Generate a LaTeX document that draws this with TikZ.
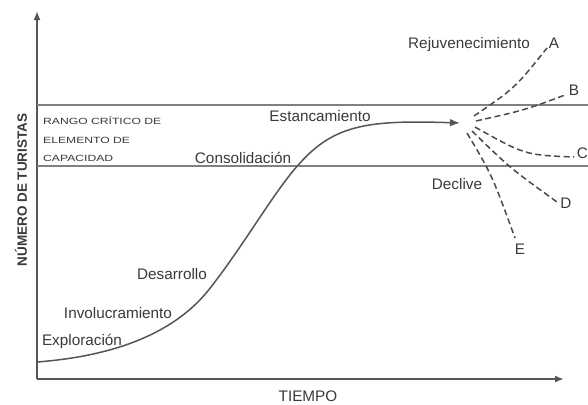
\documentclass[tikz,border=0pt]{standalone}
\usepackage{fontspec}
\setmainfont{Liberation Sans}
\usetikzlibrary{arrows.meta}
\definecolor{axisgray}{HTML}{555555}
\definecolor{linegray}{HTML}{808080}
\definecolor{txtgray}{HTML}{3A3A3A}
\definecolor{dashgray}{HTML}{4A4A4A}
\begin{document}
\begin{tikzpicture}[x=1bp,y=-1bp,
  lbl/.style={inner sep=0pt, text=txtgray, font=\fontsize{15.3bp}{18bp}\selectfont},
  small/.style={inner sep=0pt, anchor=west, text=txtgray, font=\fontsize{9bp}{10bp}\selectfont},
  axis/.style={draw=axisgray, line width=1.8bp, -{Latex[length=9bp,width=7bp]}},
  rangeline/.style={draw=linegray, line width=1.6bp},
  curve/.style={draw=axisgray, line width=1.5bp},
  scen/.style={draw=dashgray, line width=1.5bp, dash pattern=on 6bp off 3.5bp}]
\useasboundingbox (0,0) rectangle (588,404);
\fill[white] (0,0) rectangle (588,404);
% axes
\coordinate (O) at (37,379);
\coordinate (ytop) at (37,11);
\coordinate (xend) at (564,379);
\draw[axis] (O) -- (ytop);
\draw[axis] (O) -- (xend);
% critical range lines
\coordinate (u1) at (37,105); \coordinate (u2) at (588,105);
\coordinate (l1) at (37,166); \coordinate (l2) at (588,166);
\draw[rangeline] (u1) -- (u2);
\draw[rangeline] (l1) -- (l2);
% S curve
\coordinate (start) at (37,362);
\coordinate (m1) at (211,287);
\coordinate (m2) at (300,163);
\coordinate (peak) at (460,123);
\draw[curve, -{Latex[length=10bp,width=7.5bp]}] (start) .. controls (115,356) and (176,333) .. (m1)
  .. controls (246,242) and (275,190) .. (m2)
  .. controls (335,124) and (370,120) .. (peak);
% scenarios
\coordinate (sA) at (474,116); \coordinate (eA) at (547,48);
\coordinate (sB) at (476,121); \coordinate (eB) at (565,95);
\coordinate (sC) at (475,127); \coordinate (eC) at (574,157);
\coordinate (sD) at (472,131); \coordinate (eD) at (557,202);
\coordinate (sE) at (467,133); \coordinate (eE) at (515,238);
\draw[scen] (sA) .. controls (515,88) .. (eA);
\draw[scen] (sB) .. controls (525,110) .. (eB);
\draw[scen] (sC) .. controls (525,155) .. (eC);
\draw[scen] (sD) .. controls (510,168) .. (eD);
\draw[scen] (sE) .. controls (492,175) .. (eE);
\node[lbl] (A) at (554,43) {A};
\node[lbl] (B) at (574,90) {B};
\node[lbl] (C) at (582.5,153) {C};
\node[lbl] (D) at (566,203) {D};
\node[lbl] (E) at (520,249) {E};
% labels
\node[lbl] (rej) at (469,45) {Rejuvenecimiento};
\node[lbl] (est) at (320,116) {Estancamiento};
\node[lbl] (con) at (243,158) {Consolidación};
\node[lbl] (dec) at (457,184) {Declive};
\node[lbl] (des) at (172,274) {Desarrollo};
\node[lbl] (inv) at (118,313) {Involucramiento};
\node[lbl] (exp) at (82,341) {Exploración};
\node[lbl] (tie) at (308,396) {TIEMPO};
\node[inner sep=0pt, text=txtgray, rotate=90, font=\bfseries\fontsize{13.5bp}{16bp}\selectfont] (yl) at (21,190) {NÚMERO DE TURISTAS};
\node[small] (r1) at (43,121) {\scalebox{1.35}[1]{RANGO CRÍTICO DE}};
\node[small] (r2) at (43,140) {\scalebox{1.35}[1]{ELEMENTO DE}};
\node[small] (r3) at (43,158) {\scalebox{1.35}[1]{CAPACIDAD}};
\end{tikzpicture}
\end{document}
